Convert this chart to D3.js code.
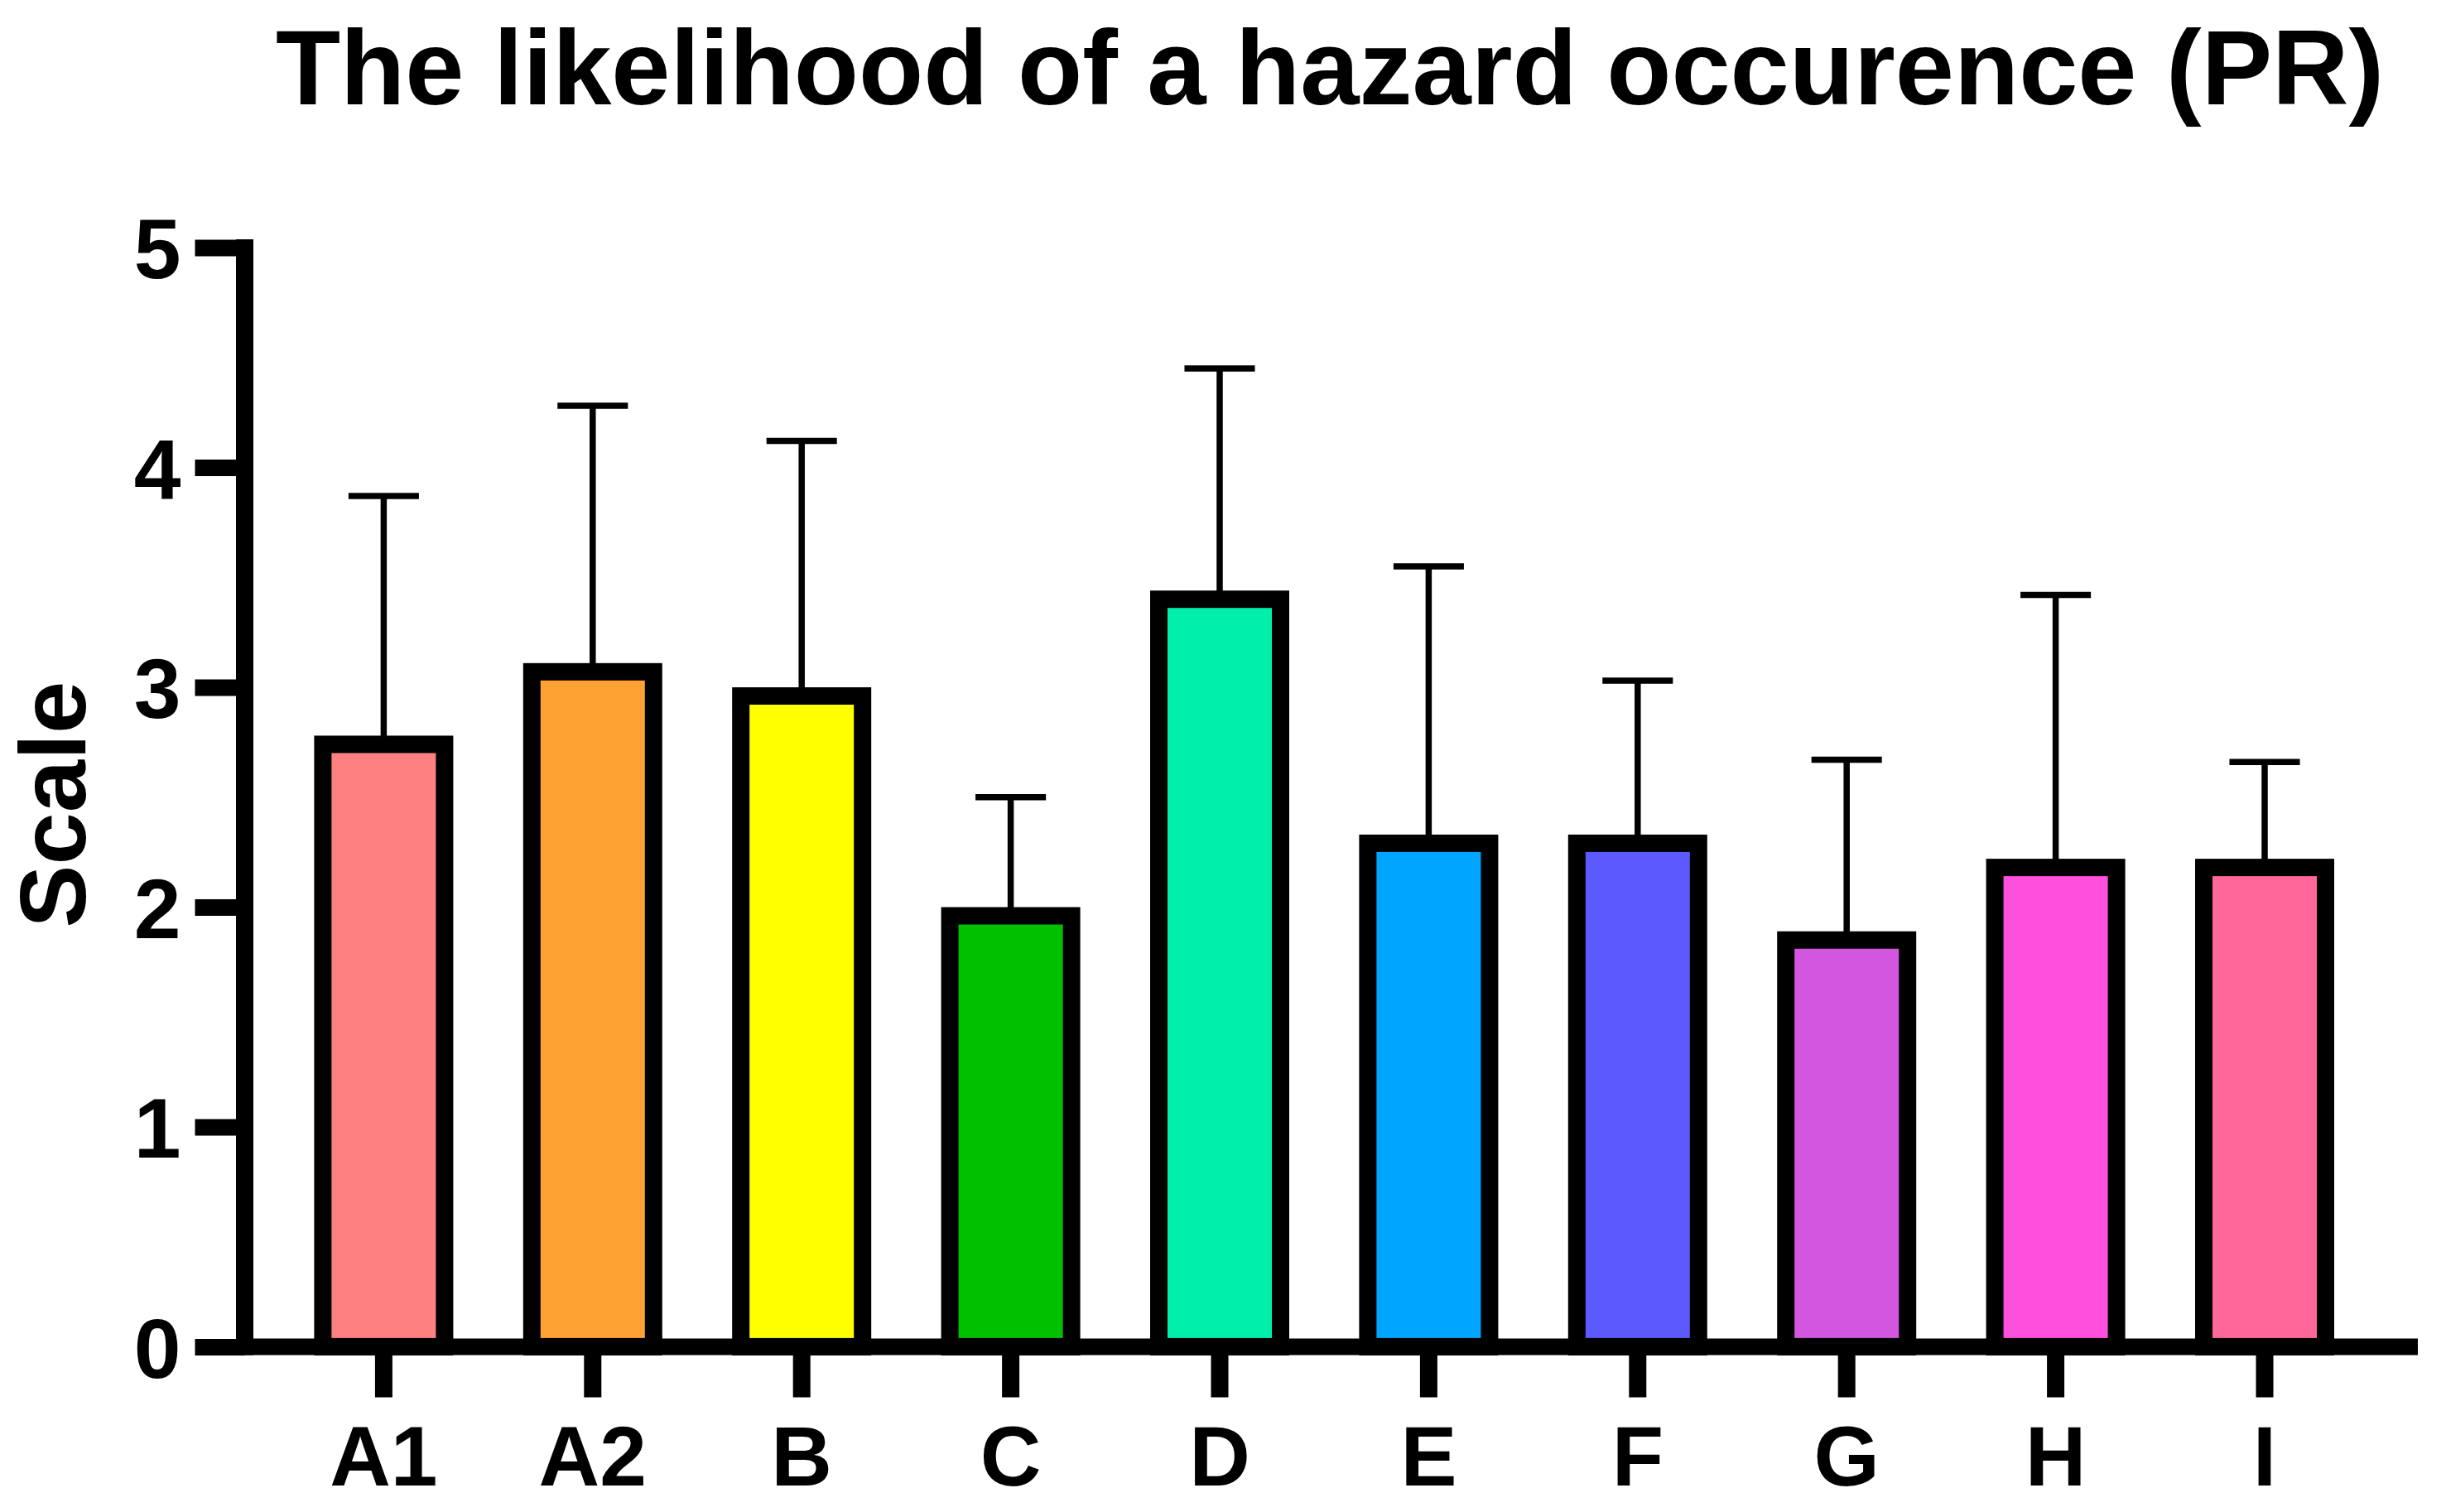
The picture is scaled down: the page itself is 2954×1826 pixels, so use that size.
<!DOCTYPE html>
<html>
<head>
<meta charset="utf-8">
<script src="https://cdn.jsdelivr.net/npm/d3@7"></script>
<style>
  html, body { margin: 0; padding: 0; background: #ffffff; }
  svg { display: block; }
  text { font-family: "Liberation Sans", Arial, Helvetica, sans-serif; font-weight: bold; fill: #000; }
</style>
</head>
<body>
<script>
const categories = ["A1", "A2", "B", "C", "D", "E", "F", "G", "H", "I"];
const means = [2.74, 3.07, 2.96, 1.96, 3.40, 2.29, 2.29, 1.85, 2.18, 2.18];
const sds = [1.13, 1.21, 1.16, 0.54, 1.05, 1.26, 0.74, 0.82, 1.24, 0.48];
const colors = ["#FF8080", "#FFA133", "#FFFF00", "#00C000", "#00F0AC", "#00A5FF", "#5A5AFF", "#D257DE", "#FF4FDD", "#FF6699"];
const yTicks = [0, 1, 2, 3, 4, 5];
const title = "The likelihood of a hazard occurence (PR)";
const yLabel = "Scale";

const W = 2954, H = 1826;
const svg = d3.select("body").append("svg").attr("width", W).attr("height", H);
svg.append("rect").attr("width", W).attr("height", H).attr("fill", "#fff");

const axisX = 295.5;          // y axis position
const axisW = 21;
const y = d3.scaleLinear().domain([0, 5]).range([1626.4, 298.9]);
const x = d3.scaleBand().domain(categories).range([337.2, 2861.2]).padding(0);
const barW = x.bandwidth() * 0.5824;
const capW = x.bandwidth() * 0.337;

const data = categories.map((c, i) => ({ cat: c, mean: means[i], sd: sds[i], color: colors[i] }));

// error bars (drawn under bars)
const eb = svg.append("g");
eb.selectAll("line.stem").data(data).join("line")
  .attr("x1", d => x(d.cat) + x.bandwidth() / 2)
  .attr("x2", d => x(d.cat) + x.bandwidth() / 2)
  .attr("y1", d => y(d.mean))
  .attr("y2", d => y(d.mean + d.sd))
  .attr("stroke", "#000").attr("stroke-width", 7.5);
eb.selectAll("line.cap").data(data).join("line")
  .attr("x1", d => x(d.cat) + x.bandwidth() / 2 - capW / 2)
  .attr("x2", d => x(d.cat) + x.bandwidth() / 2 + capW / 2)
  .attr("y1", d => y(d.mean + d.sd))
  .attr("y2", d => y(d.mean + d.sd))
  .attr("stroke", "#000").attr("stroke-width", 7.5);

// bars
svg.append("g").selectAll("rect").data(data).join("rect")
  .attr("x", d => x(d.cat) + x.bandwidth() / 2 - barW / 2)
  .attr("width", barW)
  .attr("y", d => y(d.mean))
  .attr("height", d => y(0) - y(d.mean))
  .attr("fill", d => d.color)
  .attr("stroke", "#000")
  .attr("stroke-width", 21);

// y axis
const gy = svg.append("g").attr("transform", `translate(${axisX},0)`)
  .call(d3.axisLeft(y).tickValues(yTicks).tickFormat(d3.format("d")).tickSizeInner(60).tickSizeOuter(0).tickPadding(17));
gy.select(".domain").remove();
gy.selectAll(".tick line").attr("stroke", "#000").attr("stroke-width", 20);
gy.selectAll(".tick text").attr("font-size", 102).attr("dy", "0.36em");
gy.append("line").attr("x1", 0).attr("x2", 0)
  .attr("y1", y(5) - 10).attr("y2", y(0) + 10)
  .attr("stroke", "#000").attr("stroke-width", axisW);

// x axis
const gx = svg.append("g").attr("transform", `translate(0,${y(0)})`)
  .call(d3.axisBottom(x).tickSizeInner(61).tickSizeOuter(0).tickPadding(34));
gx.select(".domain").remove();
gx.selectAll(".tick line").attr("stroke", "#000").attr("stroke-width", 21);
gx.selectAll(".tick text").attr("font-size", 102);
gx.append("line").attr("x1", axisX - axisW / 2).attr("x2", 2920)
  .attr("y1", 0).attr("y2", 0)
  .attr("stroke", "#000").attr("stroke-width", 20);

// title
svg.append("text").attr("x", 1606).attr("y", 126)
  .attr("text-anchor", "middle").attr("font-size", 128).text(title);

// y label
svg.append("text")
  .attr("transform", `translate(103, ${(y(0) + y(5)) / 2 + 9}) rotate(-90)`)
  .attr("text-anchor", "middle").attr("font-size", 114).text(yLabel);
</script>
</body>
</html>
